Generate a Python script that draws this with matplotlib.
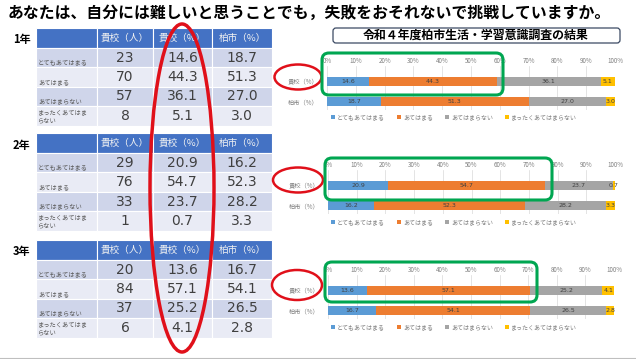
import matplotlib
matplotlib.use("Agg")
import matplotlib.pyplot as plt
from matplotlib.patches import Rectangle, Ellipse, FancyBboxPatch

plt.rcParams['font.family'] = ['Noto Sans CJK JP', 'DejaVu Sans']

W, H = 636, 359

# --- data ---
title = "あなたは、自分には難しいと思うことでも，失敗をおそれないで挑戦していますか。"
chart_title = "令和４年度柏市生活・学習意識調査の結果"
grades = ["1年", "2年", "3年"]
categories = ["とてもあてはまる", "あてはまる", "あてはまらない", "まったくあてはまらない"]
row_texts = ["とてもあてはまる", "あてはまる", "あてはまらない", "まったくあてはま\nらない"]
col_headers = ["貴校（人）", "貴校（%）", "柏市（%）"]
bar_names = ["貴校（%）", "柏市（%）"]

school_count = [[23, 70, 57, 8], [29, 76, 33, 1], [20, 84, 37, 6]]
school_pct = [[14.6, 44.3, 36.1, 5.1], [20.9, 54.7, 23.7, 0.7], [13.6, 57.1, 25.2, 4.1]]
city_pct = [[18.7, 51.3, 27.0, 3.0], [16.2, 52.3, 28.2, 3.3], [16.7, 54.1, 26.5, 2.8]]

colors = ["#5B9BD5", "#ED7D31", "#A5A5A5", "#FFC000"]

# layout in pixels
table_tops = [28, 133, 240]
col_x = [36, 97, 153, 212, 272]
header_h = 20
row_h = 19.4
chart_tops = [66, 170, 275]
chart_lr = [(327, 615), (328, 615), (328, 614)]
chart_h = 44
legend_y = [117, 222, 327]


def fig_rect(x0, y0, x1, y1):
    return [x0 / W, 1 - y1 / H, (x1 - x0) / W, (y1 - y0) / H]


fig = plt.figure(figsize=(W / 100, H / 100), dpi=100)
fig.patch.set_facecolor("white")

# background layer: titles and tables
bg = fig.add_axes([0, 0, 1, 1])
bg.set_xlim(0, W)
bg.set_ylim(H, 0)
bg.axis("off")

bg.text(8, 13, title, fontsize=11.4, fontweight="bold", va="center", ha="left", color="black")
bg.plot([0, W], [357.5, 357.5], color="#BFBFBF", lw=0.8)

box = FancyBboxPatch((333, 28), 287, 15, boxstyle="round,pad=0,rounding_size=3",
                     fc="white", ec="#3B4A63", lw=0.9)
bg.add_patch(box)
bg.text(476, 35.5, chart_title, fontsize=8.6, fontweight="bold", ha="center", va="center")

for g in range(3):
    top = table_tops[g]
    bg.text(13, top + 12, grades[g], fontsize=8, fontweight="bold", ha="left", va="center")
    for c in range(4):
        bg.add_patch(Rectangle((col_x[c], top), col_x[c + 1] - col_x[c], header_h,
                               fc="#4472C4", ec="white", lw=0.8))
    for c, h in enumerate(col_headers):
        bg.text((col_x[c + 1] + col_x[c + 2]) / 2, top + header_h / 2 + 0.5, h,
                fontsize=6.9, color="#F2F2F2", ha="center", va="center")
    for r in range(4):
        y0 = top + header_h + r * row_h
        fc = "#CFD5EA" if r % 2 == 0 else "#E9EBF5"
        for c in range(4):
            bg.add_patch(Rectangle((col_x[c], y0), col_x[c + 1] - col_x[c], row_h,
                                   fc=fc, ec="white", lw=0.8))
        if r < 3:
            bg.text(38, y0 + row_h - 4.5, row_texts[r], fontsize=4.5, color="#595959",
                    ha="left", va="center")
        else:
            bg.text(38, y0 + row_h / 2 + 0.5, row_texts[r], fontsize=4.5, color="#595959",
                    ha="left", va="center", linespacing=1.1)
        vals = [str(school_count[g][r]), f"{school_pct[g][r]:.1f}", f"{city_pct[g][r]:.1f}"]
        for c, v in enumerate(vals):
            bg.text((col_x[c + 1] + col_x[c + 2]) / 2, y0 + row_h / 2, v,
                    fontsize=10, color="#404040", ha="center", va="center",
                    family="DejaVu Sans")

# stacked bar charts
for g in range(3):
    x0, x1 = chart_lr[g]
    ax = fig.add_axes(fig_rect(x0, chart_tops[g], x1, chart_tops[g] + chart_h))
    ax.set_facecolor("none")
    lefts = [0.0, 0.0]
    handles = []
    for j in range(4):
        vals = [school_pct[g][j], city_pct[g][j]]
        bars = ax.barh([0, 1], vals, left=lefts, height=0.48, color=colors[j], zorder=2)
        ax.bar_label(bars, labels=[f"{v:.1f}" for v in vals], label_type="center",
                     fontsize=4.5, color="#404040", family="DejaVu Sans")
        handles.append(bars)
        lefts = [lefts[0] + vals[0], lefts[1] + vals[1]]
    ax.set_xlim(0, 100)
    ax.set_ylim(1.45, -0.8)
    ax.set_xticks(range(0, 101, 10))
    ax.set_xticklabels([f"{t}%" for t in range(0, 101, 10)])
    ax.xaxis.tick_top()
    ax.set_yticks([0, 1])
    ax.set_yticklabels(bar_names)
    ax.tick_params(axis="x", length=0, labelsize=4.5, labelcolor="#7F7F7F", pad=1)
    ax.tick_params(axis="y", length=0, labelsize=4.5, labelcolor="#7F7F7F", pad=6)
    ax.grid(axis="x", color="#D9D9D9", lw=0.5)
    ax.set_axisbelow(True)
    for s in ax.spines.values():
        s.set_visible(False)
    leg = ax.legend(handles, categories, loc="center", ncol=4, frameon=False,
                    bbox_to_anchor=(454 / W, 1 - legend_y[g] / H),
                    bbox_transform=fig.transFigure, fontsize=4.3,
                    handlelength=0.7, handleheight=0.7, handletextpad=0.3,
                    columnspacing=2)
    for t in leg.get_texts():
        t.set_color("#7F7F7F")

# foreground layer: red and green highlights
fg = fig.add_axes([0, 0, 1, 1], zorder=10)
fg.set_facecolor("none")
fg.set_xlim(0, W)
fg.set_ylim(H, 0)
fg.axis("off")

fg.add_patch(Ellipse((182, 188), 64, 328, fill=False, ec="#E0101A", lw=2.5))
for cx, cy, w, h in [(298, 77, 47, 25), (298, 180, 50, 25), (297, 285, 50, 30)]:
    fg.add_patch(Ellipse((cx, cy), w, h, fill=False, ec="#E0101A", lw=1.8))
for bx0, by0, bx1, by1 in [(322, 53, 503, 95), (325, 158, 552, 200), (325, 262, 537, 302)]:
    fg.add_patch(FancyBboxPatch((bx0, by0), bx1 - bx0, by1 - by0,
                                boxstyle="round,pad=0,rounding_size=7",
                                fill=False, ec="#00A651", lw=2.2))

fig.savefig("out.png", dpi=100)
